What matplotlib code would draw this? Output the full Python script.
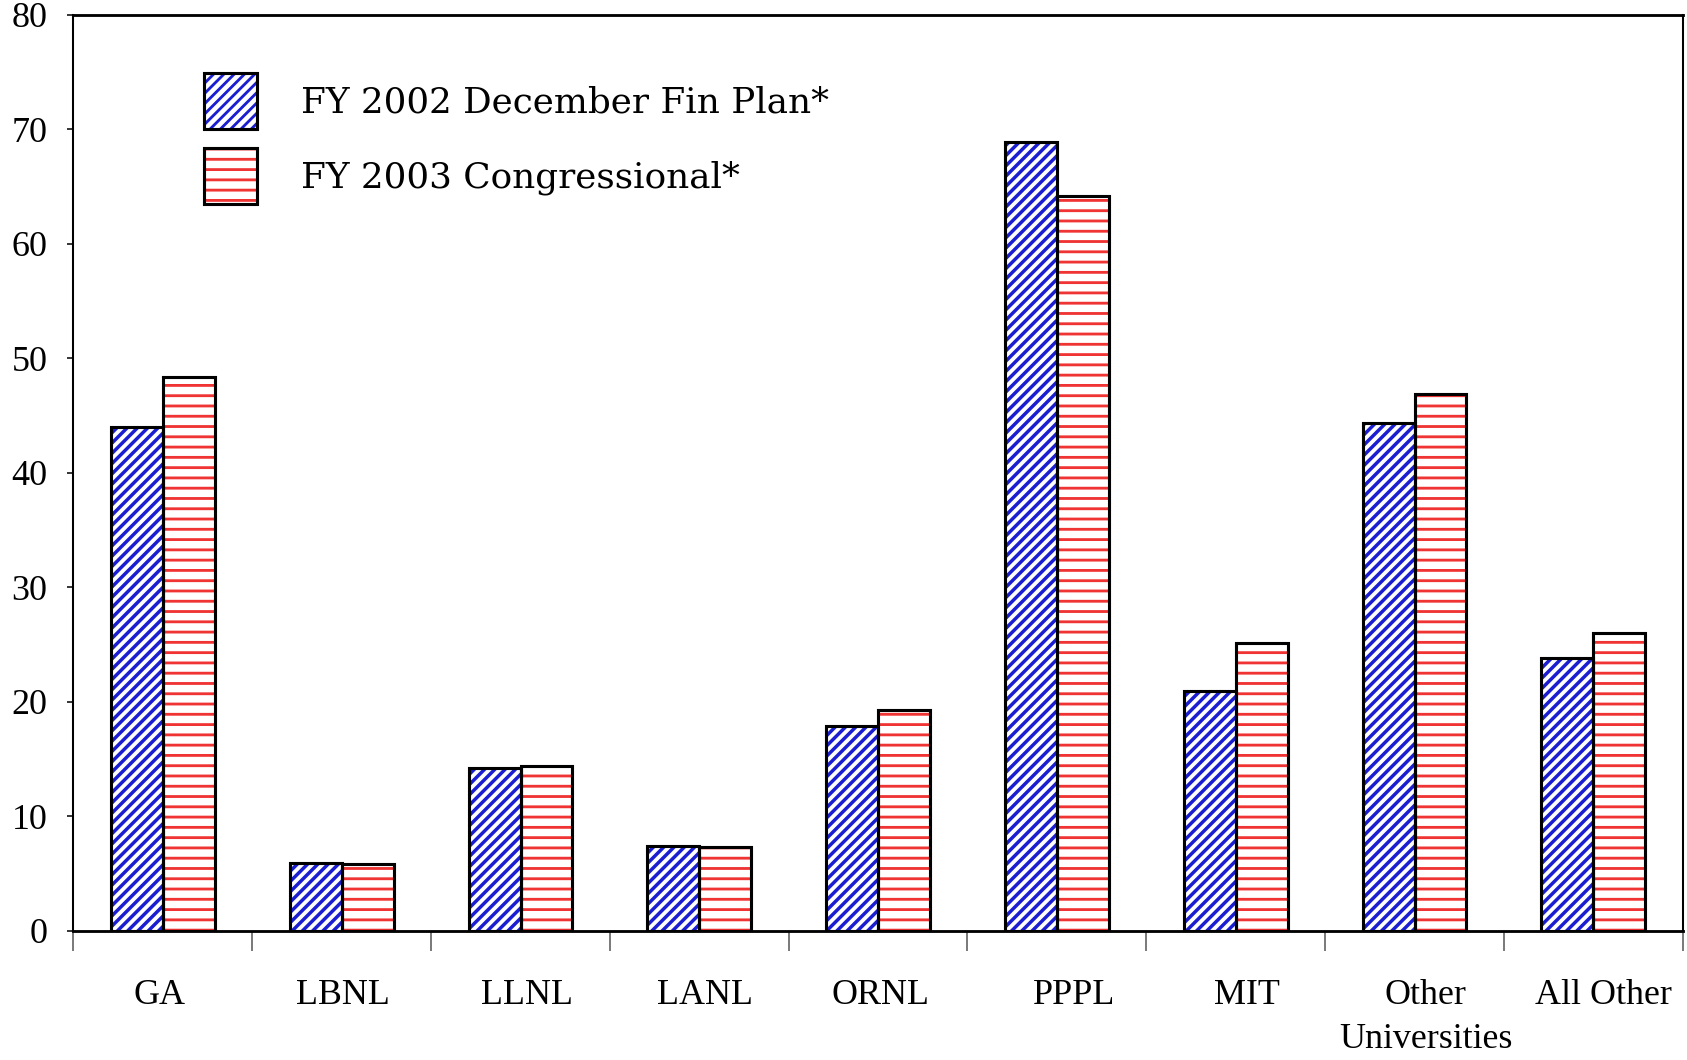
import matplotlib
matplotlib.use('Agg')
import matplotlib.pyplot as plt
from matplotlib.legend_handler import HandlerTuple
from matplotlib.transforms import ScaledTranslation
import numpy as np

# ---- data ----
categories = ['GA', 'LBNL', 'LLNL', 'LANL', 'ORNL', 'PPPL', 'MIT',
              'Other\nUniversities', 'All Other']
fy2002_dec_fin_plan = [44.0, 5.9, 14.2, 7.4, 17.9, 68.9, 20.9, 44.3, 23.8]
fy2003_congressional = [48.4, 5.8, 14.4, 7.3, 19.3, 64.2, 25.1, 46.9, 26.0]
series_labels = ['FY 2002 December Fin Plan*', 'FY 2003 Congressional*']
yticks = list(range(0, 81, 10))

# small horizontal nudges of the category labels (pixels), as in the original
label_nudge_px = [-3, 1, 6, 6, 2, 17, 11, 11, 10]

BLUE = '#1a1ed0'
RED = '#f03434'
DPI = 185
W, H = 1688, 1060

fig = plt.figure(figsize=(W / DPI, H / DPI), dpi=DPI)
left, right, top, bottom = 73.5 / W, 1682.7 / W, 1 - 14.7 / H, 1 - 930.7 / H
ax = fig.add_axes([left, bottom, right - left, top - bottom])

x = np.arange(len(categories))
w = 0.29
plt.rcParams['hatch.linewidth'] = 1.35
hb = ax.bar(x - w / 2, fy2002_dec_fin_plan, w, facecolor='white', edgecolor=BLUE,
            hatch='//////', linewidth=0)
plt.rcParams['hatch.linewidth'] = 1.1
hr = ax.bar(x + w / 2, fy2003_congressional, w, facecolor='white', edgecolor=RED,
            hatch='---', linewidth=0)
ob = ax.bar(x - w / 2, fy2002_dec_fin_plan, w, fill=False, edgecolor='black', linewidth=1.2)
orr = ax.bar(x + w / 2, fy2003_congressional, w, fill=False, edgecolor='black', linewidth=1.2)

ax.set_xlim(-0.5, len(categories) - 0.5)
ax.set_ylim(0, 80)

ax.set_yticks(yticks)
ax.set_yticklabels([str(v) for v in yticks], fontfamily='Liberation Serif', fontsize=14)
ax.tick_params(axis='y', length=2.3, width=0.6, pad=7.8, direction='out')

ax.set_xticks(np.arange(-0.5, len(categories), 1.0))
ax.set_xticklabels([])
ax.set_xticks(x, minor=True)
ax.set_xticklabels(categories, minor=True, fontfamily='Liberation Serif', fontsize=14,
                   linespacing=1.45)
ax.tick_params(axis='x', which='major', length=7.8, width=0.6, color='#555555')
ax.tick_params(axis='x', which='minor', length=0, pad=18.7)

for tick, dx in zip(ax.xaxis.get_minor_ticks(), label_nudge_px):
    lab = tick.label1
    lab.set_transform(lab.get_transform() + ScaledTranslation(dx / DPI, 0, fig.dpi_scale_trans))

ax.spines['top'].set_linewidth(1.1)
ax.spines['bottom'].set_linewidth(1.1)
ax.spines['left'].set_linewidth(0.8)
ax.spines['right'].set_linewidth(0.8)

ax.legend([(hb[0], ob[0]), (hr[0], orr[0])], series_labels,
          handler_map={tuple: HandlerTuple(ndivide=1, pad=0)},
          loc='upper left', bbox_to_anchor=(203.8 / W, 1 - 73.3 / H),
          bbox_transform=fig.transFigure, frameon=False, borderpad=0,
          borderaxespad=0, handlelength=1.485, handleheight=2.04,
          labelspacing=0.52, handletextpad=1.25,
          prop={'family': 'DejaVu Serif', 'size': 13.9})

fig.savefig('out.png', dpi=DPI)
